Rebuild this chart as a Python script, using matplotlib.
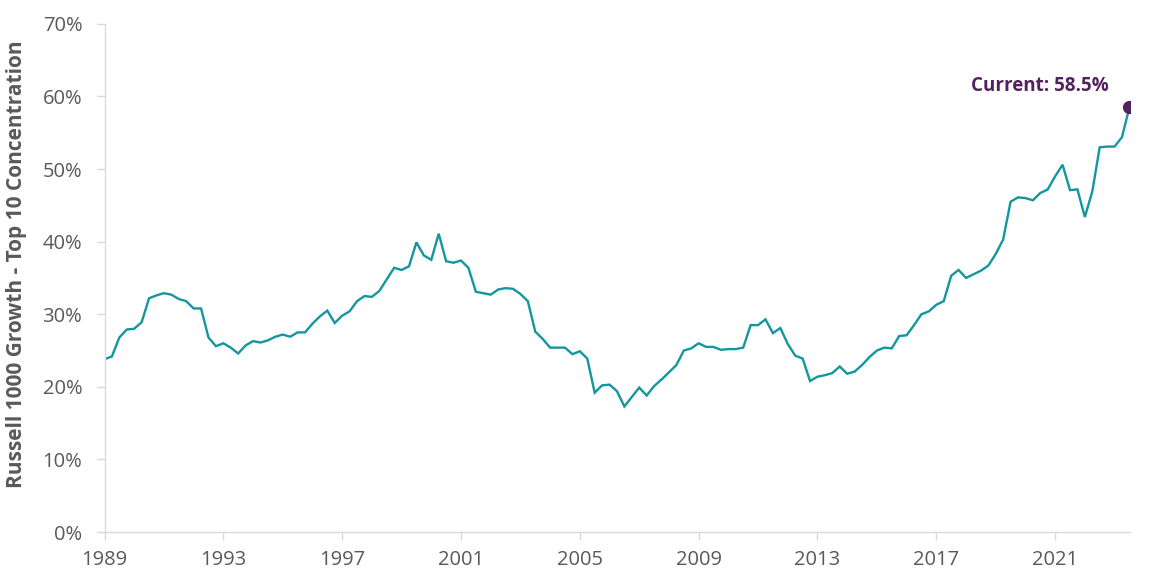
import numpy as np
import matplotlib
matplotlib.use('Agg')
import matplotlib.pyplot as plt

plt.rcParams['font.family'] = ['Open Sans', 'DejaVu Sans']

# quarterly top-10 concentration (%), starting Q1 1989
concentration = [
    23.8, 24.2, 26.8, 27.9, 28.0, 28.9, 32.2, 32.6, 32.9, 32.7,
    32.1, 31.8, 30.8, 30.8, 26.8, 25.6, 26.0, 25.4, 24.6, 25.7,
    26.3, 26.1, 26.4, 26.9, 27.2, 26.9, 27.5, 27.5, 28.7, 29.7,
    30.5, 28.8, 29.8, 30.4, 31.8, 32.5, 32.4, 33.2, 34.8, 36.4,
    36.1, 36.6, 39.9, 38.1, 37.5, 41.1, 37.3, 37.1, 37.4, 36.4,
    33.1, 32.9, 32.7, 33.4, 33.6, 33.5, 32.8, 31.8, 27.6, 26.6,
    25.4, 25.4, 25.4, 24.5, 24.9, 23.9, 19.2, 20.2, 20.3, 19.4,
    17.3, 18.6, 19.9, 18.8, 20.1, 21.0, 22.0, 23.0, 25.0, 25.3,
    26.0, 25.5, 25.5, 25.1, 25.2, 25.2, 25.4, 28.5, 28.5, 29.3,
    27.4, 28.1, 25.9, 24.3, 23.9, 20.8, 21.4, 21.6, 21.9, 22.8,
    21.8, 22.1, 23.0, 24.1, 25.0, 25.4, 25.3, 27.0, 27.1, 28.5,
    30.0, 30.4, 31.3, 31.8, 35.3, 36.1, 35.0, 35.5, 36.0, 36.7,
    38.3, 40.3, 45.5, 46.1, 46.0, 45.7, 46.7, 47.2, 49.0, 50.6,
    47.1, 47.2, 43.4, 46.9, 53.0, 53.1, 53.1, 54.4, 58.5,
]
tick_years = [1989, 1993, 1997, 2001, 2005, 2009, 2013, 2017, 2021]
y_ticks = [0, 10, 20, 30, 40, 50, 60, 70]
current_label = 'Current: 58.5%'

years = 1989 + np.arange(len(concentration)) / 4

line_color = '#14969F'
purple = '#52215E'
grey = '#595959'
axis_grey = '#D9D9D9'

fig = plt.figure(figsize=(11.52, 5.77), dpi=100)
ax = fig.add_axes([104.5 / 1152, 45 / 577, (1130 - 104.5) / 1152, (532 - 23.9) / 577])

ax.plot(years, concentration, color=line_color, lw=1.7, solid_joinstyle='miter')
ax.plot(years[-1], concentration[-1], 'o', color=purple, ms=8.5, zorder=5)
ax.annotate(current_label, xy=(years[-1], concentration[-1]), xytext=(-90, 21),
            textcoords='offset pixels', ha='center', va='center',
            color=purple, fontsize=13.5, fontweight='bold')

ax.set_xlim(years[0], years[-1] + 0.02)
ax.set_ylim(0, 70)
ax.set_xticks(tick_years)
ax.set_xticklabels([str(y) for y in tick_years])
ax.set_yticks(y_ticks)
ax.set_yticklabels([f'{v}%' for v in y_ticks])

for side in ['top', 'right']:
    ax.spines[side].set_visible(False)
for side in ['left', 'bottom']:
    ax.spines[side].set_color(axis_grey)
    ax.spines[side].set_linewidth(1.0)

ax.tick_params(axis='both', colors=axis_grey, labelcolor=grey, labelsize=14.5,
               length=6, width=1.0)
ax.tick_params(axis='x', pad=7)
ax.tick_params(axis='y', pad=10)

ax.set_ylabel('Russell 1000 Growth - Top 10 Concentration', color=grey,
              fontsize=15, fontweight='bold')
ax.yaxis.set_label_coords(-0.0756, 0.527)

fig.savefig('out.png', dpi=100)
